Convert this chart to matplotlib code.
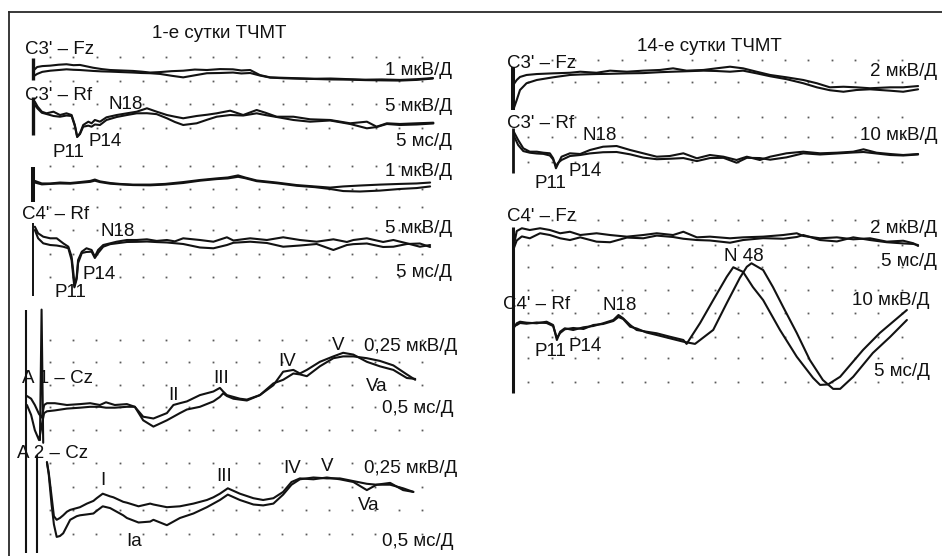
import matplotlib
matplotlib.use("Agg")
import matplotlib.pyplot as plt

W, H, DPI = 942, 556, 100

# ---------------------------------------------------------------
# Evoked potentials.  Time in ms, amplitude in µV (negative up).
# Two superimposed averages per derivation.
# ---------------------------------------------------------------

# Day 1, C3'-Fz  (1 µV/div, 5 ms/div)
d1_c3fz_ms = [0.2, 0.9, 2.0, 3.7, 5.5, 7.2, 8.7, 10.1, 11.5, 12.9, 14.8, 16.6, 19.0, 21.5,
              23.3, 25.2, 27.3, 29.8, 32.3, 34.8, 37.4, 40.2, 43.0, 44.8, 46.7, 48.8, 51.0,
              54.0, 57.4, 60.5, 64.0, 68.2, 71.5, 75.0, 78.9, 82.5, 86.0]
d1_c3fz_a = [-0.13, -0.26, -0.30, -0.32, -0.36, -0.38, -0.34, -0.35, -0.29, -0.23, -0.17, -0.13,
             -0.11, -0.09, -0.06, -0.02, -0.04, -0.08, -0.10, -0.15, -0.13, -0.17, -0.16, -0.11,
             -0.13, 0.09, 0.19, 0.21, 0.23, 0.25, 0.24, 0.27, 0.29, 0.28, 0.30, 0.27, 0.22]
d1_c3fz_b = [0.13, 0.04, -0.05, -0.10, -0.13, -0.16, -0.14, -0.13, -0.11, -0.09, -0.07, -0.06,
             -0.04, -0.02, 0.0, 0.01, 0.04, 0.12, 0.19, 0.10, 0.01, 0.0, -0.02, 0.02, 0.0, 0.11,
             0.20, 0.23, 0.25, 0.26, 0.28, 0.29, 0.31, 0.32, 0.33, 0.30, 0.24]

# Day 1, C3'-Rf  (5 µV/div)
d1_c3rf_ms = [0.4, 1.0, 1.9, 2.9, 4.4, 5.8, 7.2, 8.3, 9.0, 9.5, 10.1, 10.8, 11.9, 12.6, 13.3,
              14.4, 15.8, 18.0, 20.2, 22.3, 24.5, 26.6, 28.8, 30.5, 32.3, 35.2, 37.5, 39.5,
              42.4, 45.2, 48.1, 50.0, 52.4, 56.0, 59.6, 63.9, 68.2, 71.8, 73.9, 76.1, 78.9,
              82.5, 86.1]
d1_c3rf_a = [-1.80, -0.72, 0.37, 0.72, 0.37, 1.09, 0.72, 1.09, 3.26, 5.80, 5.07, 3.26, 2.54,
             2.89, 2.17, 2.54, 1.59, 1.09, 0.72, 0.37, -0.37, 0.37, 1.09, 1.45, 1.80, 1.30,
             1.02, 0.72, 0.15, 1.09, 0.0, 0.60, 1.46, 1.46, 2.02, 2.17, 2.89, 2.54, 3.63, 2.89,
             3.04, 2.89, 2.76]
d1_c3rf_b = [-1.09, -0.30, 0.60, 0.87, 1.30, 1.46, 1.20, 1.30, 3.48, 5.87, 5.22, 3.63, 3.40,
             3.63, 3.15, 3.26, 2.17, 1.52, 1.09, 0.72, 0.70, 0.90, 1.80, 2.60, 3.26, 2.89, 2.10,
             1.46, 1.09, 1.20, 0.72, 1.10, 1.52, 2.17, 2.54, 2.28, 3.04, 3.98, 3.70, 3.04, 3.26,
             3.15, 2.93]

# Day 1, C4'-Fz  (1 µV/div)
d1_c4fz_ms = [0.4, 1.9, 3.7, 5.8, 8.0, 10.1, 12.3, 13.3, 14.4, 16.6, 18.7, 21.5, 25.2, 28.4,
              32.3, 35.9, 39.5, 41.9, 44.1, 45.6, 48.1, 52.4, 56.7, 60.6, 63.9, 66.7, 70.3,
              74.6, 78.9, 82.5, 85.4]
d1_c4fz_a = [-0.09, 0.02, 0.02, -0.02, 0.0, -0.04, -0.09, -0.15, -0.07, 0.0, 0.04, 0.07, 0.07,
             0.04, -0.04, -0.13, -0.20, -0.24, -0.33, -0.24, -0.11, -0.02, 0.09, 0.15, 0.20,
             0.15, 0.11, 0.07, 0.04, 0.02, -0.02]
d1_c4fz_b = [-0.02, 0.06, 0.04, 0.02, 0.03, -0.01, -0.05, -0.10, -0.04, 0.03, 0.06, 0.09, 0.10,
             0.07, 0.0, -0.10, -0.17, -0.20, -0.27, -0.21, -0.08, 0.01, 0.12, 0.18, 0.26, 0.35,
             0.37, 0.33, 0.26, 0.22, 0.15]

# Day 1, C4'-Rf  (5 µV/div)
d1_c4rf_ms = [0.4, 1.1, 2.2, 3.7, 5.1, 6.5, 7.6, 8.3, 8.7, 8.9, 9.4, 9.7, 10.5, 11.5, 12.6,
              13.3, 14.0, 15.1, 16.6, 18.0, 20.2, 22.3, 24.5, 26.6, 28.8, 30.5, 32.3, 35.9,
              38.8, 41.7, 43.1, 46.7, 50.3, 53.8, 57.4, 61.0, 64.6, 67.5, 68.9, 71.8, 75.3,
              77.5, 80.4, 83.2, 85.4]
d1_c4rf_a = [-2.89, -1.46, -0.72, -0.37, -0.37, 0.72, 1.46, 3.63, 7.24, 10.0, 7.98, 4.35, 2.54,
             1.80, 2.17, 3.63, 2.17, 1.09, 0.72, 0.37, 0.0, 0.0, -0.15, 0.20, 0.0, 0.30, -0.37,
             0.0, 0.37, -0.59, 0.11, -0.37, 0.0, -0.59, 0.0, 0.37, -0.15, 0.43, 0.0, -0.37,
             0.43, 0.0, 0.72, 1.46, 1.09]
d1_c4rf_b = [-2.17, -0.37, 0.72, 1.09, 1.20, 1.46, 1.80, 4.35, 8.26, 10.3, 8.48, 5.0, 2.83,
             2.60, 2.54, 3.91, 2.83, 1.46, 0.90, 0.72, 0.43, 0.40, 0.33, 0.45, 0.54, 0.70, 0.87,
             1.63, 1.80, 1.09, 0.60, 0.37, 0.65, 1.46, 1.20, 0.87, 2.17, 1.09, 0.90, 0.76, 1.52,
             1.46, 0.87, 0.76, 1.52]

# Day 1, brainstem AEP A1-Cz  (0.25 µV/div, 0.5 ms/div)
d1_a1cz_ms = [0.02, 0.11, 0.19, 0.28, 0.34, 0.39, 0.45, 0.62, 0.88, 1.16, 1.38, 1.59, 1.72,
              1.91, 2.17, 2.34, 2.52, 2.74, 3.03, 3.17, 3.31, 3.46, 3.74, 4.03, 4.17, 4.24,
              4.32, 4.46, 4.60, 4.75, 5.03, 5.32, 5.53, 5.75, 5.89, 6.04, 6.32, 6.61, 6.82,
              7.04, 7.33, 7.61, 7.90, 8.19, 8.37]
d1_a1cz_a = [-0.10, -0.07, 0.0, 0.10, 0.14, 0.0, -0.02, -0.02, 0.0, -0.01, -0.02, 0.0, -0.03,
             0.0, -0.01, 0.02, 0.13, 0.15, 0.09, 0.0, -0.02, -0.04, -0.11, -0.15, -0.19, -0.15,
             -0.11, -0.09, -0.07, -0.06, -0.11, -0.22, -0.37, -0.39, -0.35, -0.39, -0.48, -0.54,
             -0.58, -0.56, -0.48, -0.43, -0.39, -0.30, -0.29]
d1_a1cz_b = [0.0, 0.11, 0.28, 0.39, 0.22, 0.09, 0.07, 0.06, 0.04, 0.03, 0.02, 0.02, 0.03, 0.03,
             0.02, 0.02, 0.17, 0.24, 0.17, 0.13, 0.09, 0.05, 0.02, -0.04, -0.09, -0.13, -0.10,
             -0.07, -0.06, -0.05, -0.11, -0.24, -0.28, -0.35, -0.34, -0.32, -0.43, -0.52, -0.54,
             -0.54, -0.52, -0.49, -0.44, -0.34, -0.28]
d1_a1cz_artifact_ms = [0.30, 0.335, 0.37]
d1_a1cz_artifact_uv = [0.39, -1.06, 0.42]

# Day 1, brainstem AEP A2-Cz
d1_a2cz_ms = [0.45, 0.49, 0.55, 0.60, 0.66, 0.73, 0.80, 0.88, 0.95, 1.09, 1.16, 1.31, 1.45,
              1.52, 1.65, 1.81, 1.88, 2.09, 2.17, 2.42, 2.67, 2.74, 3.03, 3.31, 3.60, 3.89,
              4.03, 4.17, 4.34, 4.60, 4.89, 5.10, 5.32, 5.53, 5.71, 5.89, 6.18, 6.47, 6.75,
              7.04, 7.33, 7.54, 7.83, 8.11, 8.33]
d1_a2cz_a = [-0.42, -0.30, -0.04, 0.18, 0.22, 0.20, 0.17, 0.13, 0.11, 0.09, 0.08, 0.04, 0.01,
             -0.02, -0.07, -0.04, -0.03, 0.02, 0.03, 0.07, 0.04, 0.05, 0.08, 0.07, 0.04, 0.0,
             -0.03, -0.07, -0.13, -0.07, -0.02, 0.0, -0.02, -0.09, -0.20, -0.24, -0.23, -0.25,
             -0.23, -0.20, -0.11, -0.17, -0.19, -0.11, -0.09]
d1_a2cz_b = [-0.42, -0.28, 0.05, 0.27, 0.41, 0.40, 0.37, 0.29, 0.22, 0.18, 0.17, 0.16, 0.15,
             0.12, 0.07, 0.09, 0.11, 0.17, 0.20, 0.25, 0.24, 0.22, 0.28, 0.20, 0.15, 0.08, 0.04,
             0.0, -0.06, 0.0, 0.05, 0.06, 0.04, -0.06, -0.17, -0.23, -0.25, -0.24, -0.24, -0.21,
             -0.18, -0.17, -0.17, -0.13, -0.09]
d1_a2cz_artifact_ms = [0.0, 0.23]

# Day 14, C3'-Fz  (2 µV/div)
d14_c3fz_ms = [0.2, 0.8, 1.5, 2.9, 5.1, 8.6, 12.2, 14.4, 17.9, 20.8, 24.4, 27.9, 31.5, 34.3,
               37.2, 40.8, 43.6, 46.5, 49.3, 52.2, 55.1, 58.6, 62.2, 65.1, 67.9, 70.8, 73.6,
               76.5, 80.8, 83.6, 86.8]
d14_c3fz_a = [0.51, 0.17, -0.09, -0.26, -0.34, -0.40, -0.45, -0.54, -0.45, -0.63, -0.54, -0.63,
              -0.69, -0.83, -0.63, -0.69, -0.83, -0.97, -0.83, -0.54, -0.26, -0.06, 0.17, 0.45,
              0.80, 0.75, 0.80, 0.88, 0.80, 0.80, 0.69]
d14_c3fz_b = [2.57, 1.89, 1.03, 0.45, 0.17, -0.06, -0.26, -0.30, -0.34, -0.36, -0.40, -0.42,
              -0.50, -0.54, -0.58, -0.63, -0.60, -0.54, -0.63, -0.40, -0.15, 0.10, 0.45, 0.80,
              1.05, 1.18, 1.03, 0.97, 1.09, 1.18, 0.97]

# Day 14, C3'-Rf  (10 µV/div)
d14_c3rf_ms = [0.2, 1.1, 2.2, 3.6, 5.1, 6.5, 7.9, 8.6, 9.2, 9.7, 10.4, 12.2, 14.4, 16.5, 19.3,
               22.2, 25.1, 27.9, 30.8, 33.6, 36.5, 39.4, 42.2, 45.1, 47.9, 50.1, 52.9, 55.1,
               58.6, 62.2, 65.8, 69.4, 72.9, 75.1, 77.9, 80.8, 83.6, 86.8]
d14_c3rf_a = [-8.58, -5.15, -1.59, -0.13, -0.13, 0.30, 0.56, 2.70, 6.99, 4.85, 2.02, 0.56, 0.86,
              -0.86, -2.27, -2.57, -0.86, 0.56, 2.02, 1.72, 0.56, 2.70, 1.29, 2.02, 3.43, 2.02,
              3.43, 2.02, 0.56, -0.13, 0.56, 0.30, -0.13, -1.16, 0.30, 0.86, 1.29, 0.86]
d14_c3rf_b = [-6.86, -3.0, -0.4, 0.3, 0.64, 0.80, 1.50, 3.2, 6.01, 4.6, 3.43, 1.72, 1.29, 0.60,
              0.10, 0.0, 1.0, 2.40, 3.10, 2.9, 2.6, 3.9, 2.6, 2.5, 4.6, 2.5, 2.6, 3.3, 2.3, 0.56,
              1.07, 0.64, 0.21, 0.0, 0.64, 1.29, 1.50, 1.07]

# Day 14, C4'-Fz  (2 µV/div)
d14_c4fz_ms = [0.2, 0.8, 1.9, 3.6, 5.8, 7.9, 10.1, 12.2, 14.4, 17.9, 20.8, 24.4, 27.9, 30.8,
               34.3, 36.5, 39.4, 42.2, 46.5, 49.3, 53.6, 57.9, 60.8, 62.2, 65.8, 69.4, 72.9,
               76.5, 80.1, 83.6, 85.8, 86.8]
d14_c4fz_a = [0.69, -0.51, -0.75, -0.60, -0.75, -0.60, -0.32, -0.45, -0.17, -0.32, -0.17, -0.03,
              -0.17, -0.32, -0.17, -0.45, 0.03, -0.03, 0.11, 0.03, -0.03, -0.17, -0.32, -0.09,
              0.11, 0.03, 0.20, 0.11, 0.40, 0.32, 0.54, 0.77]
d14_c4fz_b = [0.94, 0.30, -0.05, 0.11, -0.32, -0.17, 0.11, 0.26, 0.03, 0.40, 0.45, 0.05, 0.11,
              -0.12, 0.0, 0.15, 0.26, 0.30, 0.49, 0.26, 0.10, 0.15, 0.0, -0.17, 0.26, 0.38, 0.03,
              0.26, 0.45, 0.55, 0.60, 0.69]

# Day 14, C4'-Rf  (10 µV/div), large N48 wave
d14_c4rf_a_ms = [0.1, 0.8, 1.5, 2.9, 5.1, 7.2, 8.6, 9.4, 10.1, 11.1, 12.9, 15.1, 17.2, 19.3,
                 21.5, 22.6, 23.6, 25.1, 26.5, 28.6, 30.8, 33.6, 36.5, 37.2, 40.1, 42.9, 45.8,
                 47.2, 49.3, 51.4, 53.6, 57.2, 60.8, 64.3, 65.8, 67.5, 70.1, 75.0, 78.6, 84.4]
d14_c4rf_a = [2.70, 0.56, -0.13, 0.30, 0.56, -0.13, 1.29, 7.72, 4.16, 2.70, 3.43, 2.27, 1.72,
              0.56, -0.86, -3.00, -1.59, 1.29, 3.43, 4.16, 4.85, 6.31, 7.72, 9.4, 0.4, -9.4,
              -19.4, -23.5, -21.5, -15.0, -9.4, 3.4, 14.9, 24.0, 27.0, 26.8, 23.5, 12.0, 4.7,
              -5.15]
d14_c4rf_b_ms = [0.1, 0.8, 1.5, 2.9, 5.1, 7.2, 8.6, 9.4, 10.1, 11.1, 12.9, 15.1, 17.2, 19.3,
                 21.5, 22.6, 23.6, 25.1, 26.5, 28.6, 30.8, 33.6, 36.5, 39.0, 42.9, 45.8, 48.6,
                 50.1, 51.1, 53.6, 55.7, 57.9, 60.8, 63.6, 66.4, 68.6, 70.1, 72.9, 77.1, 80.8,
                 84.4]
d14_c4rf_b = [1.72, 1.29, 0.43, 0.73, 0.21, 0.43, 1.72, 6.86, 4.72, 3.13, 2.57, 3.00, 1.29,
              0.86, -0.43, -2.15, -1.29, 2.02, 2.79, 4.51, 5.58, 6.99, 8.45, 9.4, 3.4, -8.1,
              -18.9, -23.7, -25.2, -22.3, -15.0, -6.4, 4.7, 16.3, 24.9, 28.7, 28.7, 23.5, 13.3,
              6.4, -0.86]

# Stimulus marker spans at t = 0 (µV); the C4'-Fz marker runs on through C4'-Rf
stim_span = {
    "d1_c3fz": (-0.65, 0.30),
    "d1_c3rf": (-2.83, 5.43),
    "d1_c4fz": (-0.70, 0.83),
    "d1_c4rf": (-3.70, 12.2),
    "d1_a1cz": (-1.06, 0.55),
    "d1_a2cz": (-0.50, 0.59),
    "d14_c3fz": (-0.94, 2.75),
    "d14_c3rf": (-10.3, 9.0),
    "d14_c4fz": (-0.86, 13.4),
}

# ---------------------------------------------------------------
# Layout of each derivation strip (pixel origin of t=0 / 0 µV,
# pixels per ms and per division, division sizes, dot-grid rows).
# ---------------------------------------------------------------
LEFT = dict(x0=33, px_ms=4.65, ms_div=5, dot_t0=3.66)
BAEP = dict(x0=26, px_ms=46.5, ms_div=0.5, dot_t0=0.516)
RIGHT = dict(x0=513, px_ms=4.667, ms_div=5, dot_t0=3.28)

panels = [
    dict(key="d1_c3fz", **LEFT, y0=73, px_div=23.0, uv_div=1, rows=[-0.70, 0.35], stim_lw=2.4,
         traces=[(d1_c3fz_ms, d1_c3fz_a), (d1_c3fz_ms, d1_c3fz_b)]),
    dict(key="d1_c3rf", **LEFT, y0=110, px_div=23.0, uv_div=5, rows=[-0.26, 0.78], stim_lw=2.4,
         traces=[(d1_c3rf_ms, d1_c3rf_a), (d1_c3rf_ms, d1_c3rf_b)]),
    dict(key="d1_c4fz", **LEFT, y0=183, px_div=23.0, uv_div=1, rows=[-0.74, 0.26], stim_lw=2.9,
         traces=[(d1_c4fz_ms, d1_c4fz_a), (d1_c4fz_ms, d1_c4fz_b)]),
    dict(key="d1_c4rf", **LEFT, y0=240, px_div=23.0, uv_div=5, rows=[-1.43, -0.43, 0.61, 1.61],
         stim_lw=1.4, traces=[(d1_c4rf_ms, d1_c4rf_a), (d1_c4rf_ms, d1_c4rf_b)]),
    dict(key="d1_a1cz", **BAEP, y0=405, px_div=22.5, uv_div=0.25,
         rows=[-2.89, -1.91, -0.89, 0.09, 1.11], stim_lw=1.5,
         traces=[(d1_a1cz_ms, d1_a1cz_a), (d1_a1cz_ms, d1_a1cz_b),
                 (d1_a1cz_artifact_ms, d1_a1cz_artifact_uv)]),
    dict(key="d1_a2cz", **BAEP, y0=500, px_div=22.5, uv_div=0.25,
         rows=[-1.64, -0.58, 0.44, 1.51], stim_lw=1.5,
         traces=[(d1_a2cz_ms, d1_a2cz_a), (d1_a2cz_ms, d1_a2cz_b)]),
    dict(key="d14_c3fz", **RIGHT, y0=78, px_div=23.3, uv_div=2, rows=[-0.77, 0.17], stim_lw=2.9,
         traces=[(d14_c3fz_ms, d14_c3fz_a), (d14_c3fz_ms, d14_c3fz_b)]),
    dict(key="d14_c3rf", **RIGHT, y0=152, px_div=23.3, uv_div=10, rows=[-1.50, -0.64, 0.43],
         stim_lw=2.0, traces=[(d14_c3rf_ms, d14_c3rf_a), (d14_c3rf_ms, d14_c3rf_b)]),
    dict(key="d14_c4fz", **RIGHT, y0=237, px_div=23.3, uv_div=2, rows=[-0.73, 0.34, 1.29],
         stim_lw=2.2, traces=[(d14_c4fz_ms, d14_c4fz_a), (d14_c4fz_ms, d14_c4fz_b)]),
    dict(key="d14_c4rf", **RIGHT, y0=322, px_div=23.3, uv_div=10,
         rows=[-1.37, -0.39, 0.64, 1.55, 2.58], stim_lw=2.2,
         traces=[(d14_c4rf_a_ms, d14_c4rf_a), (d14_c4rf_b_ms, d14_c4rf_b)]),
]

N_DOTS = 17
INK = "#121212"

fig = plt.figure(figsize=(W / DPI, H / DPI), dpi=DPI)
fig.patch.set_facecolor("white")


def strip_axes(p):
    """Transparent full-figure axes whose data units are ms and µV."""
    ax = fig.add_axes([0, 0, 1, 1])
    ax.set_xlim(-p["x0"] / p["px_ms"], (W - p["x0"]) / p["px_ms"])
    uv_px = p["uv_div"] / p["px_div"]
    ax.set_ylim((H - p["y0"]) * uv_px, -p["y0"] * uv_px)
    ax.axis("off")
    ax.patch.set_alpha(0)
    return ax


for p in panels:
    ax = strip_axes(p)
    dot_t = [p["dot_t0"] + k * p["ms_div"] for k in range(N_DOTS)]
    for r in p["rows"]:
        ax.plot(dot_t, [r * p["uv_div"]] * N_DOTS, linestyle="none", marker="s",
                markersize=1.3, color="#5a5a5a", markeredgewidth=0)
    span = stim_span.get(p["key"])
    if span is not None:
        ax.vlines(0, span[0], span[1], color=INK, lw=p["stim_lw"])
        if p["key"] == "d1_a2cz":
            ax.vlines(d1_a2cz_artifact_ms[1], span[0], span[1], color=INK, lw=1.5)
    for t, a in p["traces"]:
        ax.plot(t, a, color=INK, lw=1.5, solid_joinstyle="round", solid_capstyle="round")

# Text layer in pixel units
tx = fig.add_axes([0, 0, 1, 1])
tx.set_xlim(0, W)
tx.set_ylim(H, 0)
tx.axis("off")
tx.patch.set_alpha(0)

tx.plot([9, W], [12, 12], color="#2a2a2a", lw=1.3)
tx.plot([9, 9], [12, H], color="#2a2a2a", lw=1.3)

FONT = dict(family=["Liberation Sans", "DejaVu Sans"], fontsize=13.5, color="#111111",
            va="baseline")

labels = [
    ("1-е сутки ТЧМТ", 219, 38, "center"),
    ("C3' – Fz", 25, 54, "left"),
    ("1 мкВ/Д", 452, 75, "right"),
    ("C3' – Rf", 25, 100, "left"),
    ("N18", 109, 109, "left"),
    ("5 мкВ/Д", 452, 111, "right"),
    ("P11", 53, 157, "left"),
    ("P14", 88, 146, "left"),
    ("5 мс/Д", 452, 146, "right"),
    ("1 мкВ/Д", 452, 176, "right"),
    ("C4' – Rf", 22, 219, "left"),
    ("N18", 100, 236, "left"),
    ("5 мкВ/Д", 452, 233, "right"),
    ("P14", 83, 279, "left"),
    ("P11", 55, 297, "left"),
    ("5 мс/Д", 452, 277, "right"),
    ("A 1 – Cz", 22, 383, "left"),
    ("II", 174, 400, "center"),
    ("III", 221, 383, "center"),
    ("IV", 287, 366, "center"),
    ("V", 338, 350, "center"),
    ("Va", 377, 391, "center"),
    ("0,25 мкВ/Д", 457, 351, "right"),
    ("0,5 мс/Д", 453, 413, "right"),
    ("A 2 – Cz", 17, 458, "left"),
    ("I", 103, 485, "center"),
    ("Ia", 134, 546, "center"),
    ("III", 224, 481, "center"),
    ("IV", 292, 473, "center"),
    ("V", 327, 471, "center"),
    ("Va", 369, 510, "center"),
    ("0,25 мкВ/Д", 457, 473, "right"),
    ("0,5 мс/Д", 453, 546, "right"),
    ("14-е сутки ТЧМТ", 709, 51, "center"),
    ("C3' – Fz", 507, 68, "left"),
    ("2 мкВ/Д", 937, 76, "right"),
    ("C3' – Rf", 507, 128, "left"),
    ("N18", 583, 140, "left"),
    ("10 мкВ/Д", 937, 140, "right"),
    ("P11", 535, 188, "left"),
    ("P14", 568, 176, "left"),
    ("C4' – Fz", 507, 221, "left"),
    ("2 мкВ/Д", 937, 233, "right"),
    ("5 мс/Д", 937, 266, "right"),
    ("N 48", 724, 261, "left"),
    ("C4' – Rf", 503, 309, "left"),
    ("N18", 602, 310, "left"),
    ("10 мкВ/Д", 930, 305, "right"),
    ("P11", 535, 356, "left"),
    ("P14", 568, 351, "left"),
    ("5 мс/Д", 930, 376, "right"),
]
for s, x, y, ha in labels:
    tx.text(x, y, s, ha=ha, **FONT)

fig.savefig("out.png", dpi=DPI, facecolor="white")
